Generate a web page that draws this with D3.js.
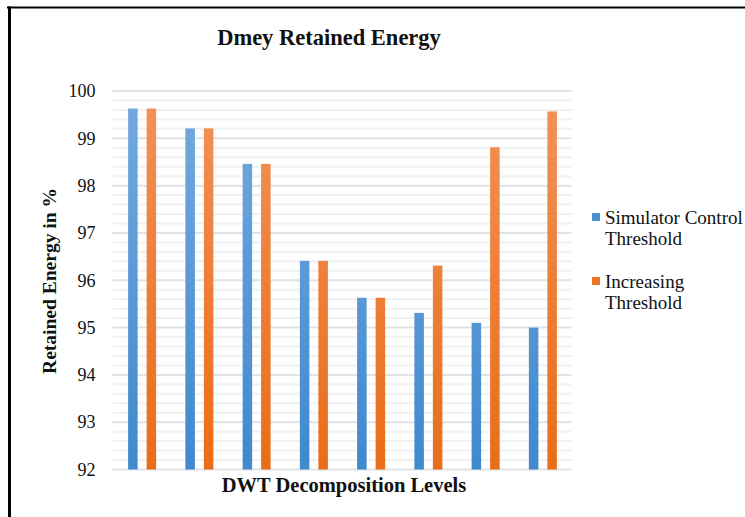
<!DOCTYPE html>
<html>
<head>
<meta charset="utf-8">
<script src="https://cdn.jsdelivr.net/npm/d3@7"></script>
<style>
  html, body { margin: 0; padding: 0; background: #fff; }
  svg { display: block; }
  text { font-family: "Liberation Serif", "DejaVu Serif", serif; fill: #111; }
</style>
</head>
<body>
<div id="chart"></div>
<script>
// Retained energy (%) for each DWT decomposition level
const levels = ["1", "2", "3", "4", "5", "6", "7", "8"];
const seriesNames = ["Simulator Control Threshold", "Increasing Threshold"];
const simulatorControl = [99.63, 99.21, 98.46, 96.41, 95.63, 95.31, 95.10, 95.00];
const increasingThreshold = [99.63, 99.21, 98.46, 96.41, 95.63, 96.31, 98.81, 99.57];
const yTicks = [92, 93, 94, 95, 96, 97, 98, 99, 100];

const W = 745, H = 517;
const plot = { left: 113.5, right: 571.5, top: 91, bottom: 469.5 };
const serif = "'Liberation Serif', 'DejaVu Serif', serif";

const svg = d3.select("#chart").append("svg")
  .attr("width", W).attr("height", H);

// vertical gradients for the two series
const defs = svg.append("defs");
const fills = [
  { id: "gBlue", top: "#75aae0", bottom: "#3f89cd" },
  { id: "gOrange", top: "#f29259", bottom: "#e96d18" }
];
fills.forEach(f => {
  const g = defs.append("linearGradient").attr("id", f.id)
    .attr("gradientUnits", "userSpaceOnUse")
    .attr("x1", 0).attr("x2", 0)
    .attr("y1", plot.top).attr("y2", plot.bottom);
  g.append("stop").attr("offset", "0%").attr("stop-color", f.top);
  g.append("stop").attr("offset", "100%").attr("stop-color", f.bottom);
});

// frame
svg.append("line").attr("x1", 7).attr("x2", W).attr("y1", 7.5).attr("y2", 7.5)
  .attr("stroke", "#000").attr("stroke-width", 2);
svg.append("line").attr("x1", 9.5).attr("x2", 9.5).attr("y1", 6.5).attr("y2", H)
  .attr("stroke", "#000").attr("stroke-width", 3);

const x = d3.scaleBand().domain(levels).range([plot.left, plot.right]).padding(0);
const xs = d3.scaleBand().domain(seriesNames).range([0, x.bandwidth()])
  .paddingInner(0.486).paddingOuter(0.79);
const y = d3.scaleLinear().domain([92, 100]).range([plot.bottom, plot.top]);

// minor gridlines every 0.2
const minor = d3.range(92, 100.001, 0.2).map(v => Math.round(v * 10) / 10)
  .filter(v => Math.abs(v - Math.round(v)) > 1e-6);
svg.append("g").selectAll("line").data(minor).join("line")
  .attr("x1", plot.left - 1).attr("x2", plot.right)
  .attr("y1", d => y(d)).attr("y2", d => y(d))
  .attr("stroke", "#f0f1f3").attr("stroke-width", 2);

// major gridlines
svg.append("g").selectAll("line").data(yTicks).join("line")
  .attr("x1", plot.left - 1).attr("x2", plot.right)
  .attr("y1", d => y(d)).attr("y2", d => y(d))
  .attr("stroke", "#dfe3e8").attr("stroke-width", 2);

// y axis labels
const yAxis = svg.append("g").attr("transform", `translate(${plot.left},0)`)
  .call(d3.axisLeft(y).tickValues(yTicks).tickSize(0).tickPadding(18).tickFormat(d3.format("d")));
yAxis.select(".domain").remove();
yAxis.attr("font-family", serif);
yAxis.selectAll("text")
  .attr("font-family", serif)
  .attr("font-size", 18).attr("fill", "#222");

// bars
const series = [
  { name: seriesNames[0], values: simulatorControl, fill: "url(#gBlue)" },
  { name: seriesNames[1], values: increasingThreshold, fill: "url(#gOrange)" }
];
series.forEach(s => {
  svg.append("g").selectAll("rect").data(levels).join("rect")
    .attr("x", d => x(d) + xs(s.name))
    .attr("width", xs.bandwidth())
    .attr("y", (d, i) => y(s.values[i]))
    .attr("height", (d, i) => y(92) - y(s.values[i]))
    .attr("fill", s.fill);
});

// title
svg.append("text").attr("x", 329).attr("y", 45).attr("text-anchor", "middle")
  .attr("font-family", serif)
  .attr("font-size", 22.5).attr("font-weight", "bold").text("Dmey Retained Energy");

// axis titles
svg.append("text").attr("x", 344).attr("y", 492).attr("text-anchor", "middle")
  .attr("font-family", serif)
  .attr("font-size", 20.5).attr("font-weight", "bold").text("DWT Decomposition Levels");
svg.append("text").attr("transform", "translate(56,281) rotate(-90)")
  .attr("text-anchor", "middle")
  .attr("font-family", serif)
  .attr("font-size", 19.5).attr("font-weight", "bold").text("Retained Energy in %");

// legend
const legendItems = [
  { lines: ["Simulator Control", "Threshold"], fill: "#4a8fd0", y: 218 },
  { lines: ["Increasing", "Threshold"], fill: "#ec731f", y: 282 }
];
const lg = svg.append("g");
legendItems.forEach(it => {
  lg.append("rect").attr("x", 592).attr("y", it.y - 5).attr("width", 8).attr("height", 8)
    .attr("fill", it.fill);
  it.lines.forEach((t, k) => {
    lg.append("text").attr("x", 605).attr("y", it.y + 6 + k * 21)
      .attr("font-family", serif)
      .attr("font-size", 19).attr("fill", "#222").text(t);
  });
});
</script>
</body>
</html>
